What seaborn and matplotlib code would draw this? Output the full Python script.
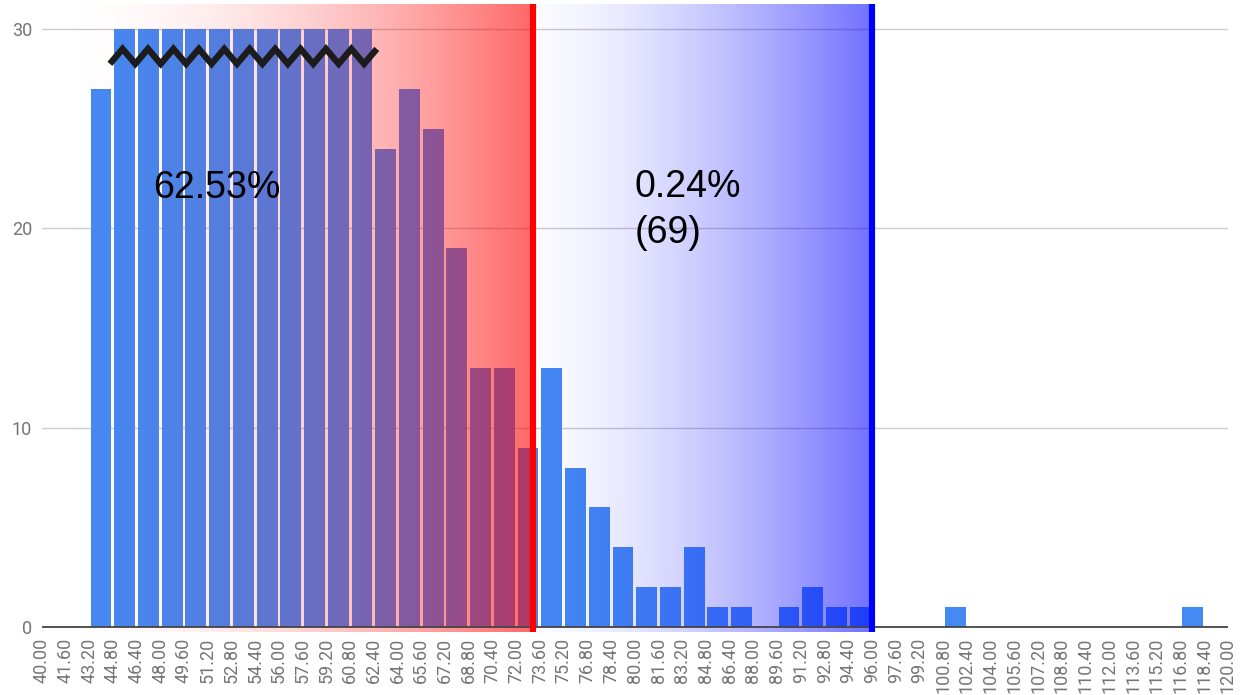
import numpy as np
import pandas as pd
import matplotlib
matplotlib.use("Agg")
import matplotlib.pyplot as plt
import seaborn as sns

# ---------------- data ----------------
TICK_LABELS = ["40.00", "41.60", "43.20", "44.80", "46.40", "48.00", "49.60", "51.20",
               "52.80", "54.40", "56.00", "57.60", "59.20", "60.80", "62.40", "64.00",
               "65.60", "67.20", "68.80", "70.40", "72.00", "73.60", "75.20", "76.80",
               "78.40", "80.00", "81.60", "83.20", "84.80", "86.40", "88.00", "89.60",
               "91.20", "92.80", "94.40", "96.00", "97.60", "99.20", "100.80", "102.40",
               "104.00", "105.60", "107.20", "108.80", "110.40", "112.00", "113.60",
               "115.20", "116.80", "118.40", "120.00"]
# counts per bin (bins are between consecutive tick labels); 30 = truncated at axis top
COUNTS = [0, 0, 27, 30, 30, 30, 30, 30, 30, 30, 30, 30, 30, 30, 24, 27, 25, 19, 13, 13,
          9, 13, 8, 6, 4, 2, 2, 4, 1, 1, 0, 1, 2, 1, 1, 0, 0, 0, 1, 0,
          0, 0, 0, 0, 0, 0, 0, 0, 1, 0]
Y_TICKS = [0, 10, 20, 30]

RED_LINE = 73.15
BLUE_LINE = 96.0
LEFT_TEXT = "62.53%"
RIGHT_TEXT_1 = "0.24%"
RIGHT_TEXT_2 = "(69)"

# break-mark (zigzag) over truncated bars
ZIGZAG_START, ZIGZAG_END, ZIGZAG_VERTS = 44.6, 62.6, 22
ZIGZAG_LOW, ZIGZAG_HIGH = 28.25, 29.0

# ---------------- figure ----------------
sns.set_style("white")
plt.rcParams["font.family"] = ["Liberation Sans", "DejaVu Sans"]

edges = [float(t) for t in TICK_LABELS]
centers = [(a + b) / 2 for a, b in zip(edges[:-1], edges[1:])]
df = pd.DataFrame({"value": centers, "count": COUNTS})

fig = plt.figure(figsize=(12.4, 6.95), dpi=100)
ax = fig.add_axes([0.0336, 0.0906, 0.9567, 0.9036])

YMIN, YMAX = -0.25, 31.25

# gridlines
for yv in Y_TICKS[1:]:
    ax.axhline(yv, color="#cccccc", lw=1.0, zorder=0)

sns.histplot(data=df, x="value", weights="count", bins=edges, shrink=0.88,
             color="#4589F2", alpha=1.0, edgecolor="none", linewidth=0,
             ax=ax, zorder=1)

# gradient overlays
n = 256
t = np.linspace(0, 1, n)
red = np.zeros((1, n, 4))
red[..., 0] = 1.0
red[..., 3] = 0.6 * t ** 1.9
ax.imshow(red, extent=[edges[0], RED_LINE, YMIN, YMAX], aspect="auto",
          interpolation="bilinear", zorder=2)
blue = np.zeros((1, n, 4))
blue[..., 2] = 1.0
blue[..., 3] = 0.02 + 0.54 * t ** 1.5
ax.imshow(blue, extent=[RED_LINE, BLUE_LINE, YMIN, YMAX], aspect="auto",
          interpolation="bilinear", zorder=2)

# baseline
ax.axhline(0, color="#444444", lw=1.3, zorder=3)

# vertical marker lines
ax.axvline(RED_LINE, color="#ff0000", lw=4.4, zorder=4)
ax.axvline(BLUE_LINE, color="#0000ff", lw=4.4, zorder=4)

# zigzag break mark
zx = np.linspace(ZIGZAG_START, ZIGZAG_END, ZIGZAG_VERTS)
zy = [ZIGZAG_LOW if i % 2 == 0 else ZIGZAG_HIGH for i in range(ZIGZAG_VERTS)]
ax.plot(zx, zy, color="#1c1c1c", lw=4.6, solid_joinstyle="miter",
        solid_capstyle="butt", zorder=5)

# texts
ax.text(47.5, 21.5, LEFT_TEXT, fontsize=27, color="black", ha="left",
        va="baseline", zorder=6)
ax.text(80.0, 21.55, RIGHT_TEXT_1, fontsize=27, color="black", ha="left",
        va="baseline", zorder=6)
ax.text(80.0, 19.25, RIGHT_TEXT_2, fontsize=27, color="black", ha="left",
        va="baseline", zorder=6)

# axes styling
ax.set_xlim(edges[0], edges[-1])
ax.set_ylim(YMIN, YMAX)
ax.set_xticks(edges)
ax.set_xticklabels(TICK_LABELS, rotation=90, fontsize=13, color="#757575",
                   family=["Roboto", "DejaVu Sans"])
ax.set_yticks(Y_TICKS)
ax.set_yticklabels([str(v) for v in Y_TICKS], fontsize=13, color="#757575",
                   family=["Roboto", "DejaVu Sans"])
ax.tick_params(axis="x", length=0, pad=4)
ax.tick_params(axis="y", length=0, pad=7)
ax.set_xlabel("")
ax.set_ylabel("")
for s in ax.spines.values():
    s.set_visible(False)

fig.savefig("out.png", dpi=100)
